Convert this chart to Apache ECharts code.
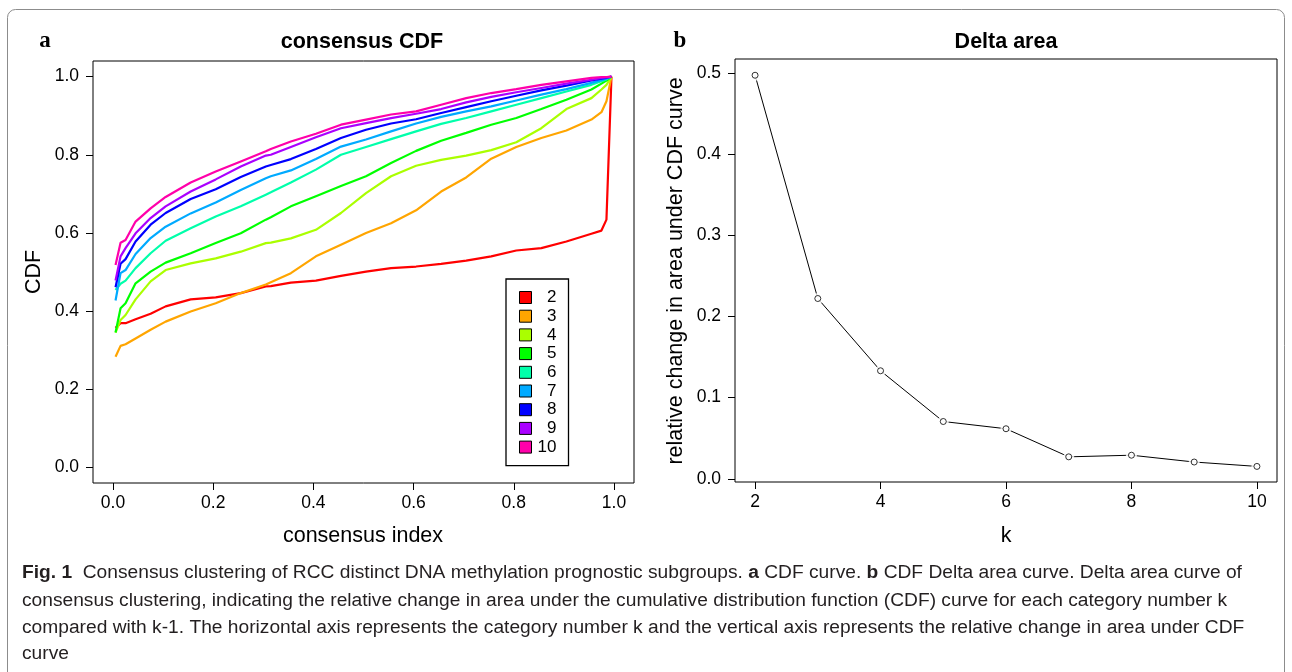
<!DOCTYPE html>
<html>
<head>
<meta charset="utf-8">
<script src="https://cdn.jsdelivr.net/npm/echarts@6/dist/echarts.min.js"></script>
<style>
  html, body { margin: 0; padding: 0; background: #fff; }
  #chart { width: 1292px; height: 672px; }
</style>
</head>
<body>
<div id="chart"></div>
<script>
// consensus index (histogram mids) where the CDF curves were read
var cdfX = [0.005, 0.015, 0.025, 0.045, 0.075, 0.105, 0.155, 0.205, 0.255, 0.305, 0.315, 0.355, 0.405,
    0.455, 0.505, 0.555, 0.605, 0.655, 0.705, 0.755, 0.805, 0.855, 0.905, 0.955, 0.975, 0.985, 0.995];
var cdfK2 = [0.357, 0.369, 0.369, 0.379, 0.393, 0.412, 0.430, 0.435, 0.446, 0.463, 0.464, 0.473, 0.478,
    0.490, 0.501, 0.510, 0.514, 0.521, 0.529, 0.540, 0.555, 0.561, 0.578, 0.598, 0.606, 0.634, 1.0];
var cdfK3 = [0.283, 0.311, 0.315, 0.330, 0.352, 0.373, 0.399, 0.420, 0.446, 0.468, 0.474, 0.497, 0.540,
    0.570, 0.600, 0.625, 0.658, 0.706, 0.742, 0.790, 0.820, 0.843, 0.862, 0.890, 0.909, 0.937, 1.0];
var cdfK4 = [0.345, 0.377, 0.390, 0.430, 0.476, 0.505, 0.522, 0.535, 0.552, 0.574, 0.575, 0.586, 0.608,
    0.651, 0.702, 0.745, 0.772, 0.787, 0.798, 0.812, 0.832, 0.868, 0.917, 0.945, 0.967, 0.979, 1.0];
var cdfK5 = [0.345, 0.407, 0.420, 0.471, 0.501, 0.524, 0.548, 0.574, 0.599, 0.634, 0.640, 0.668, 0.694,
    0.720, 0.745, 0.779, 0.810, 0.836, 0.856, 0.877, 0.894, 0.917, 0.941, 0.967, 0.982, 0.990, 1.0];
var cdfK6 = [0.454, 0.470, 0.478, 0.510, 0.548, 0.580, 0.612, 0.642, 0.668, 0.698, 0.704, 0.729, 0.762,
    0.800, 0.820, 0.840, 0.860, 0.879, 0.894, 0.911, 0.928, 0.945, 0.962, 0.979, 0.988, 0.993, 1.0];
var cdfK7 = [0.427, 0.497, 0.505, 0.546, 0.587, 0.616, 0.650, 0.678, 0.710, 0.740, 0.745, 0.760, 0.789,
    0.821, 0.839, 0.860, 0.880, 0.897, 0.911, 0.924, 0.939, 0.954, 0.968, 0.984, 0.991, 0.995, 1.0];
var cdfK8 = [0.461, 0.521, 0.533, 0.578, 0.621, 0.651, 0.687, 0.712, 0.743, 0.770, 0.774, 0.789, 0.815,
    0.843, 0.864, 0.880, 0.891, 0.907, 0.922, 0.937, 0.951, 0.965, 0.977, 0.990, 0.995, 0.997, 1.0];
var cdfK9 = [0.478, 0.540, 0.561, 0.599, 0.638, 0.668, 0.706, 0.737, 0.770, 0.798, 0.800, 0.820, 0.845,
    0.868, 0.881, 0.894, 0.905, 0.917, 0.934, 0.948, 0.960, 0.971, 0.982, 0.992, 0.997, 0.998, 1.0];
var cdfK10 = [0.518, 0.575, 0.582, 0.629, 0.663, 0.692, 0.729, 0.757, 0.783, 0.809, 0.815, 0.834, 0.854,
    0.877, 0.890, 0.903, 0.911, 0.928, 0.945, 0.958, 0.968, 0.979, 0.988, 0.997, 0.999, 0.999, 1.0];
var cdfNames = ['2', '3', '4', '5', '6', '7', '8', '9', '10'];
var cdfColors = ['#ff0000', '#ffa500', '#aaff00', '#00ff00', '#00ffaa', '#00aaff', '#0000ff', '#aa00ff', '#ff00aa'];
var cdfTicks = [0, 0.2, 0.4, 0.6, 0.8, 1.0];

// delta area panel
var deltaK = [2, 3, 4, 5, 6, 7, 8, 9, 10];
var deltaArea = [0.497, 0.222, 0.133, 0.0705, 0.0616, 0.027, 0.029, 0.0206, 0.0152];
var deltaXTicks = [2, 4, 6, 8, 10];
var deltaYTicks = [0, 0.1, 0.2, 0.3, 0.4, 0.5];

var cdfAll = [cdfK2, cdfK3, cdfK4, cdfK5, cdfK6, cdfK7, cdfK8, cdfK9, cdfK10];
var axisFont = 'Liberation Sans, Arial, sans-serif';

var series = cdfAll.map(function (ys, i) {
    return {
        name: cdfNames[i],
        type: 'line',
        xAxisIndex: 0,
        yAxisIndex: 0,
        symbol: 'none',
        color: cdfColors[i],
        lineStyle: {width: 2.2, color: cdfColors[i]},
        data: ys.map(function (y, j) { return [cdfX[j], y]; })
    };
});

var deltaPts = deltaArea.map(function (v, i) { return [deltaK[i], v]; });
series.push({
    type: 'line', xAxisIndex: 1, yAxisIndex: 1, symbol: 'none', z: 2,
    lineStyle: {width: 1, color: '#000'}, data: deltaPts
});
// white halo so the line stops short of each point, like R type="b"
series.push({
    type: 'scatter', xAxisIndex: 1, yAxisIndex: 1, symbolSize: 11, z: 3,
    itemStyle: {color: '#fff'}, data: deltaPts
});
series.push({
    type: 'scatter', xAxisIndex: 1, yAxisIndex: 1, symbol: 'circle', symbolSize: 6, z: 4,
    itemStyle: {color: '#fff', borderColor: '#000', borderWidth: 1}, data: deltaPts
});

function valueAxis(grid, min, max, ticks, fmt, gap) {
    return {
        type: 'value', gridIndex: grid, min: min, max: max,
        axisLine: {show: false, onZero: false},
        splitLine: {show: false},
        axisTick: {show: true, inside: false, length: 7, customValues: ticks, lineStyle: {color: '#000', width: 1}},
        axisLabel: {customValues: ticks, formatter: fmt, color: '#000', fontSize: 17.5, fontFamily: axisFont, margin: gap}
    };
}
function oneDec(v) { return v.toFixed(1); }
function intLab(v) { return String(Math.round(v)); }

var xLeft = valueAxis(0, -0.04, 1.04, cdfTicks, oneDec, 11);
var yLeft = valueAxis(0, -0.04, 1.04, cdfTicks, oneDec, 14);
var xRight = valueAxis(1, 1.68, 10.32, deltaXTicks, intLab, 11);
var yRight = valueAxis(1, -0.004, 0.517, deltaYTicks, oneDec, 14);

function txt(x, y, s, size, extra) {
    var st = {text: s, fontSize: size, fontFamily: axisFont, fill: '#000', textAlign: 'center', textVerticalAlign: 'middle'};
    for (var k in extra) st[k] = extra[k];
    return {type: 'text', x: x, y: y, style: st, z: 10};
}
function rot(x, y, s, size) {
    var t = txt(0, 0, s, size, {});
    t.x = x; t.y = y; t.rotation = Math.PI / 2;
    return t;
}

var capFont = '"Liberation Sans", Arial, sans-serif';
var capRich = {
    b: {fontWeight: 'bold', fontSize: 19.2, fontFamily: capFont, fill: '#231f20'},
    n: {fontSize: 19.2, fontFamily: capFont, fill: '#231f20'}
};
var capLines = [
    '{b|Fig. 1}{n|  Consensus clustering of RCC distinct DNA methylation prognostic subgroups. }{b|a}{n| CDF curve. }{b|b}{n| CDF Delta area curve. Delta area curve of}',
    '{n|consensus clustering, indicating the relative change in area under the cumulative distribution function (CDF) curve for each category number k}',
    '{n|compared with k-1. The horizontal axis represents the category number k and the vertical axis represents the relative change in area under CDF}',
    '{n|curve}'
];
var capY = [573, 601, 628, 654];

var graphics = [
    {type: 'rect', shape: {x: 7.5, y: 9.5, width: 1277, height: 720, r: 8}, style: {fill: 'none', stroke: '#8c8c8c', lineWidth: 1}, z: 0},
    txt(45, 41, 'a', 23, {fontFamily: '"Liberation Serif", serif', fontWeight: 'bold'}),
    txt(680, 41, 'b', 23, {fontFamily: '"Liberation Serif", serif', fontWeight: 'bold'}),
    txt(362, 42, 'consensus CDF', 21.5, {fontWeight: 'bold'}),
    txt(1006, 42, 'Delta area', 21.5, {fontWeight: 'bold'}),
    txt(363, 536, 'consensus index', 21.5, {}),
    txt(1006, 536, 'k', 21.5, {}),
    rot(34, 272, 'CDF', 21.5),
    rot(676, 271, 'relative change in area under CDF curve', 21.5)
];
capLines.forEach(function (s, i) {
    graphics.push({type: 'text', x: 22, y: capY[i], z: 10,
        style: {text: s, rich: capRich, textAlign: 'left', textVerticalAlign: 'middle'}});
});

var myChart = echarts.init(document.getElementById('chart'), null, {renderer: 'canvas'});
var option = {
    backgroundColor: '#fff',
    animation: false,
    grid: [
        {left: 93, top: 61, width: 541, height: 422, show: true, borderColor: '#000', borderWidth: 1},
        {left: 735, top: 59, width: 542, height: 423, show: true, borderColor: '#000', borderWidth: 1}
    ],
    xAxis: [xLeft, xRight],
    yAxis: [yLeft, yRight],
    legend: {
        orient: 'vertical',
        left: 506,
        top: 279,
        data: cdfNames,
        icon: 'rect',
        itemWidth: 12,
        itemHeight: 12,
        itemGap: 1.7,
        padding: [10, 12, 10, 13],
        borderColor: '#000',
        borderWidth: 1.3,
        itemStyle: {borderColor: '#000', borderWidth: 1},
        formatter: '{n|{name}}',
        textStyle: {
            color: '#000', fontSize: 17, fontFamily: axisFont,
            rich: {n: {width: 20, align: 'right', fontSize: 17, fontFamily: axisFont}}
        }
    },
    graphic: graphics,
    series: series
};
myChart.setOption(option);
</script>
</body>
</html>
